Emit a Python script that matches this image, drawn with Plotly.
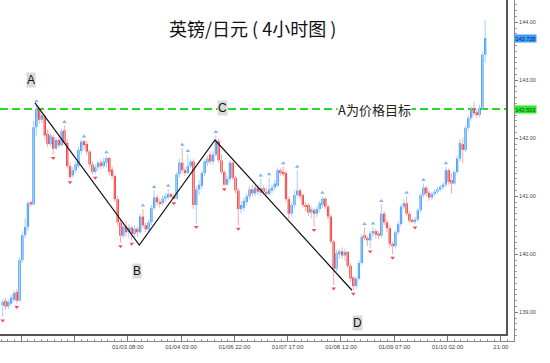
import plotly.graph_objects as go

# ---------------- data (hourly candles, GBP/JPY) ----------------
opens = [
    139.12, 139.20, 139.10, 139.15, 139.22, 139.35, 139.20, 139.90, 140.33, 140.47,
    140.90, 140.86, 142.19, 142.50, 142.32, 142.38, 142.08, 141.90, 142.02, 141.82,
    141.97, 141.88, 142.14, 141.92, 141.52, 141.36, 141.45, 141.52, 141.78, 141.95,
    141.90, 141.77, 141.55, 141.42, 141.50, 141.58, 141.52, 141.58, 141.66, 141.46,
    141.35, 140.95, 140.55, 140.32, 140.48, 140.38, 140.46, 140.35, 140.44, 140.38,
    140.65, 140.50, 140.43, 140.55, 140.80, 140.98, 140.90, 140.88, 140.96, 140.98,
    141.04, 141.00, 140.96, 141.38, 141.58, 141.45, 141.40, 141.52, 141.60, 140.85,
    141.12, 141.18, 141.40, 141.58, 141.72, 141.60, 141.72, 141.95, 141.62, 141.42,
    141.20, 141.30, 141.58, 141.32, 141.10, 140.78, 140.80, 140.90, 141.00, 141.12,
    141.05, 141.15, 141.06, 141.14, 141.08, 141.04, 141.10, 141.15, 141.18, 141.45,
    141.42, 141.40, 140.95, 140.70, 140.85, 141.02, 141.10, 141.02, 140.85, 140.85,
    140.72, 140.76, 140.70, 140.78, 140.85, 140.96, 140.82, 140.65, 140.22, 139.75,
    140.00, 140.05, 139.98, 140.04, 139.80, 139.60, 139.45, 139.58, 139.85, 140.33,
    140.28, 140.24, 140.36, 140.40, 140.36, 140.32, 140.70, 140.55, 140.45, 140.18,
    140.14, 140.38, 140.52, 140.82, 140.88, 140.70, 140.58, 140.56, 140.60, 140.76,
    141.02, 141.15, 141.06, 140.98, 141.04, 141.08, 141.12, 141.16, 141.20, 141.45,
    141.28, 141.22, 141.42, 141.65, 141.90, 141.80, 142.18, 142.35, 142.52, 142.45,
    142.40, 142.52, 143.44,
]
highs = [
    139.22, 139.24, 139.22, 139.30, 139.38, 139.40, 139.95, 140.40, 140.62, 140.92,
    140.92, 142.30, 142.58, 142.54, 142.44, 142.42, 142.15, 142.10, 142.06, 142.02,
    142.02, 142.18, 142.22, 141.98, 141.58, 141.50, 141.60, 141.85, 141.98, 141.97,
    141.95, 141.80, 141.60, 141.55, 141.62, 141.64, 141.66, 141.70, 141.68, 141.52,
    141.38, 141.00, 140.60, 140.55, 140.58, 140.52, 140.50, 140.50, 140.48, 140.70,
    140.78, 140.55, 140.60, 140.85, 141.10, 141.02, 140.96, 141.02, 141.06, 141.12,
    141.06, 141.04, 141.42, 141.65, 141.83, 141.50, 141.72, 141.65, 141.64, 141.18,
    141.28, 141.45, 141.64, 141.70, 141.76, 141.78, 142.05, 142.00, 141.72, 141.45,
    141.36, 141.62, 141.60, 141.36, 141.14, 140.92, 140.98, 141.04, 141.18, 141.20,
    141.22, 141.20, 141.30, 141.18, 141.15, 141.32, 141.20, 141.28, 141.50, 141.48,
    141.51, 141.44, 141.00, 140.90, 141.10, 141.45, 141.14, 141.06, 140.90, 140.88,
    140.82, 140.80, 140.82, 140.92, 141.00, 140.98, 140.86, 140.68, 140.25, 140.08,
    140.10, 140.12, 140.10, 140.06, 139.85, 139.62, 139.62, 139.90, 140.35, 140.46,
    140.32, 140.40, 140.47, 140.44, 140.40, 140.86, 140.75, 140.60, 140.50, 140.22,
    140.42, 140.56, 140.86, 140.95, 141.00, 140.74, 140.62, 140.65, 140.80, 141.06,
    141.22, 141.18, 141.10, 141.08, 141.12, 141.16, 141.20, 141.24, 141.51, 141.48,
    141.40, 141.46, 141.70, 141.98, 142.00, 142.22, 142.40, 142.55, 142.62, 142.50,
    142.58, 143.50, 144.04,
]
lows = [
    138.92, 139.05, 139.06, 139.12, 139.18, 139.15, 139.18, 139.85, 140.28, 140.40,
    140.82, 140.84, 142.05, 142.25, 142.26, 141.98, 141.85, 141.86, 141.72, 141.80,
    141.84, 141.86, 141.90, 141.48, 141.30, 141.32, 141.40, 141.48, 141.72, 141.80,
    141.72, 141.50, 141.38, 141.38, 141.44, 141.47, 141.48, 141.50, 141.36, 141.30,
    140.90, 140.48, 140.20, 140.28, 140.30, 140.28, 140.24, 140.30, 140.30, 140.35,
    140.45, 140.38, 140.40, 140.50, 140.76, 140.85, 140.80, 140.84, 140.90, 140.94,
    140.96, 140.94, 140.94, 141.32, 141.40, 141.35, 141.38, 141.48, 140.78, 140.53,
    141.02, 141.12, 141.35, 141.52, 141.55, 141.55, 141.68, 141.58, 141.38, 141.18,
    141.18, 141.25, 141.28, 141.05, 140.50, 140.70, 140.74, 140.85, 140.95, 141.00,
    141.00, 141.02, 141.00, 141.02, 140.98, 141.00, 141.05, 141.10, 141.15, 141.36,
    141.34, 140.90, 140.60, 140.65, 140.80, 140.98, 140.95, 140.80, 140.74, 140.66,
    140.62, 140.48, 140.64, 140.72, 140.80, 140.78, 140.60, 140.18, 139.47, 139.70,
    139.92, 139.92, 139.88, 139.76, 139.52, 139.38, 139.40, 139.55, 139.82, 140.24,
    140.14, 140.11, 140.30, 140.28, 140.26, 140.28, 140.50, 140.38, 140.12, 140.00,
    140.10, 140.34, 140.48, 140.78, 140.66, 140.54, 140.54, 140.52, 140.56, 140.72,
    140.98, 141.00, 140.92, 140.94, 141.00, 141.04, 141.08, 141.12, 141.16, 141.20,
    141.05, 141.20, 141.38, 141.60, 141.57, 141.76, 142.12, 142.30, 142.38, 142.35,
    142.36, 142.48, 143.30,
]
closes = [
    139.18, 139.10, 139.18, 139.25, 139.33, 139.20, 139.90, 140.33, 140.47, 140.88,
    140.86, 142.19, 142.50, 142.32, 142.40, 142.05, 141.90, 142.05, 141.82, 141.97,
    141.88, 142.12, 141.92, 141.52, 141.33, 141.45, 141.55, 141.80, 141.94, 141.88,
    141.77, 141.55, 141.42, 141.50, 141.58, 141.52, 141.60, 141.66, 141.42, 141.35,
    140.95, 140.55, 140.32, 140.48, 140.38, 140.46, 140.35, 140.44, 140.38, 140.65,
    140.50, 140.43, 140.55, 140.80, 140.98, 140.90, 140.88, 140.96, 141.00, 141.04,
    140.99, 140.96, 141.38, 141.58, 141.45, 141.40, 141.52, 141.60, 140.85, 141.12,
    141.20, 141.40, 141.60, 141.65, 141.60, 141.72, 141.95, 141.62, 141.42, 141.20,
    141.30, 141.58, 141.32, 141.10, 140.78, 140.85, 140.92, 141.00, 141.12, 141.05,
    141.15, 141.08, 141.14, 141.08, 141.04, 141.12, 141.15, 141.22, 141.45, 141.40,
    141.38, 140.95, 140.70, 140.85, 141.02, 141.10, 141.00, 140.85, 140.82, 140.72,
    140.78, 140.70, 140.78, 140.88, 140.96, 140.82, 140.65, 140.22, 139.75, 140.02,
    140.05, 139.98, 140.04, 139.80, 139.58, 139.45, 139.58, 139.85, 140.30, 140.28,
    140.24, 140.36, 140.40, 140.34, 140.32, 140.70, 140.55, 140.45, 140.18, 140.14,
    140.38, 140.52, 140.82, 140.88, 140.70, 140.58, 140.56, 140.60, 140.76, 141.02,
    141.15, 141.05, 140.98, 141.04, 141.08, 141.12, 141.16, 141.20, 141.45, 141.25,
    141.22, 141.42, 141.65, 141.92, 141.80, 142.18, 142.35, 142.50, 142.43, 142.40,
    142.52, 143.44, 143.728,
]

fractal_up_bars = [12, 22, 29, 37, 50, 54, 59, 64, 66, 76, 92, 95, 100, 105,
                   114, 129, 132, 135, 144, 150, 158]
fractal_down_bars = [0, 5, 18, 24, 33, 42, 46, 61, 69, 79, 84, 111, 118, 125,
                     131, 139, 147]

wave_bars = [11.5, 48.7, 75.7, 124.5]
wave_prices = [142.61, 140.16, 141.97, 139.38]
wave_labels = ["A", "B", "C", "D"]

target_price = 142.503
last_price = closes[-1]

time_tick_bars = [6.6, 25.6, 44.6, 63.6, 82.6, 101.6, 120.6, 139.6, 158.6, 177.6]
time_tick_labels = ["2/31/2012 00:00", "", "01/03 08:00", "01/04 03:00", "01/06 22:00",
                    "01/07 17:00", "01/08 12:00", "01/09 07:00", "01/10 02:00", "21:00"]
price_ticks = [139.0, 140.0, 141.0, 142.0, 143.0, 144.0]

title_text = "英镑/日元 ( 4小时图 )"
target_text = "A为价格目标"

# ---------------- styling ----------------
UP_BODY = "#1a86ff"
DN_BODY = "#f01010"
UP_WICK = "#a6cffa"
DN_WICK = "#f9a9a9"
CJK = "Noto Sans CJK SC"
SMALL = "Liberation Sans"

n = len(closes)
bars = list(range(n))
is_up = [closes[i] >= opens[i] for i in bars]

fig = go.Figure()

# wicks
for up, col in ((True, UP_WICK), (False, DN_WICK)):
    wx, wy = [], []
    for i in bars:
        if is_up[i] == up:
            wx += [i, i, None]
            wy += [lows[i], highs[i], None]
    fig.add_trace(go.Scatter(x=wx, y=wy, mode="lines",
                             line=dict(color=col, width=1), hoverinfo="skip"))

# bodies
fig.add_trace(go.Bar(
    x=bars,
    y=[max(abs(closes[i] - opens[i]), 0.014) for i in bars],
    base=[min(opens[i], closes[i]) for i in bars],
    width=0.8,
    marker=dict(color=[UP_BODY if u else DN_BODY for u in is_up], line=dict(width=0)),
    hoverinfo="skip",
))

# fractal markers
fig.add_trace(go.Scatter(
    x=fractal_up_bars, y=[highs[i] + 0.06 for i in fractal_up_bars],
    mode="markers", marker=dict(symbol="triangle-up", size=4, color="#7fb0ff"),
    hoverinfo="skip"))
fig.add_trace(go.Scatter(
    x=fractal_down_bars, y=[lows[i] - 0.06 for i in fractal_down_bars],
    mode="markers", marker=dict(symbol="triangle-down", size=4, color="#ff4a4a"),
    hoverinfo="skip"))

# ABCD wave
fig.add_trace(go.Scatter(x=wave_bars, y=wave_prices, mode="lines",
                         line=dict(color="#111111", width=1.2), hoverinfo="skip"))

PW = 514.0
PH = 341.0

def px(xp):
    return xp / PW

def py(yp):
    return 1 - yp / PH

shapes = [
    dict(type="line", xref="paper", yref="y", x0=0, x1=px(507), y0=target_price, y1=target_price,
         line=dict(color="#22dd22", width=2, dash="8px,4px"), layer="below"),
    dict(type="line", xref="paper", yref="paper", x0=0, x1=px(508), y0=py(335), y1=py(335),
         line=dict(color="#555555", width=2)),
    dict(type="line", xref="paper", yref="paper", x0=px(507), x1=px(507), y0=py(336), y1=1,
         line=dict(color="#555555", width=2)),
]

annotations = [
    dict(text=title_text, xref="paper", yref="paper", x=px(252), y=py(28), showarrow=False,
         font=dict(family=CJK, size=18, color="#111111"), xanchor="center", yanchor="middle"),
    dict(text=target_text, xref="paper", yref="y", x=px(374), y=target_price, showarrow=False,
         font=dict(family=CJK, size=13, color="#222222"), bgcolor="white",
         xanchor="center", yanchor="middle", borderpad=0),
    dict(text=f"{last_price:.3f}", xref="paper", yref="y", x=1, y=last_price, showarrow=False,
         font=dict(family=SMALL, size=5.5, color="#0d2a55"), bgcolor="#3d9cff",
         xanchor="left", yanchor="middle", borderpad=0.5),
    dict(text=f"{target_price:.3f}", xref="paper", yref="y", x=1, y=target_price, showarrow=False,
         font=dict(family=SMALL, size=5.5, color="#0b4a0b"), bgcolor="#2ee82e",
         xanchor="left", yanchor="middle", borderpad=0.5),
]
label_pos = {"A": (31, 80), "B": (137, 271), "C": (222, 108), "D": (357, 323)}
for lab in wave_labels:
    lx, ly = label_pos[lab]
    annotations.append(dict(text=lab, xref="paper", yref="paper", x=px(lx), y=py(ly),
                            showarrow=False, font=dict(family="Liberation Sans", size=12, color="#111111"),
                            bgcolor="#dadada", borderpad=0, xanchor="center", yanchor="middle"))

fig.update_layout(
    width=550, height=363,
    margin=dict(l=0, r=36, t=0, b=22, autoexpand=False),
    paper_bgcolor="white", plot_bgcolor="white",
    showlegend=False, barmode="overlay",
    shapes=shapes, annotations=annotations,
    xaxis=dict(
        range=[-0.963, 182.28], tickmode="array", tickvals=time_tick_bars, ticktext=time_tick_labels,
        ticks="inside", ticklen=6, tickcolor="#777777", showline=True, linecolor="#888888", linewidth=1,
        showgrid=False, zeroline=False, tickfont=dict(family=SMALL, size=6, color="#444444"),
        minor=dict(tick0=6.6, dtick=19 / 8, ticks="inside", ticklen=2, tickcolor="#999999", showgrid=False),
        fixedrange=True, automargin=False,
    ),
    yaxis=dict(
        side="right", range=[138.505, 144.384], tickmode="array", tickvals=price_ticks,
        ticktext=[f"{v:.2f}" for v in price_ticks], ticks="outside", ticklen=3, tickcolor="#777777",
        showline=True, linecolor="#888888", linewidth=1, showgrid=False, zeroline=False,
        tickfont=dict(family=SMALL, size=5.5, color="#444444"),
        minor=dict(tick0=139, dtick=0.1, ticks="outside", ticklen=2, tickcolor="#999999", showgrid=False),
        fixedrange=True, automargin=False,
    ),
)

fig.write_html("out.html", config={"displayModeBar": False},
               post_script="document.body.style.margin='0';document.body.style.padding='0';")
